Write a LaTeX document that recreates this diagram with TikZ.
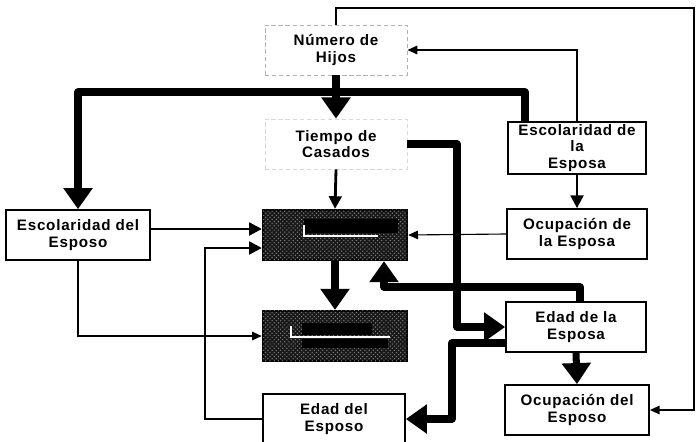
\documentclass[tikz,border=0pt]{standalone}
\usepackage{fontspec}
\setmainfont{Liberation Sans}[LetterSpace=5]
\usetikzlibrary{arrows.meta,positioning,patterns}

\begin{document}
\begin{tikzpicture}[x=0.025cm,y=-0.025cm,
  box/.style={draw, line width=1.2pt, minimum width=3.55cm, minimum height=1.25cm,
    inner sep=2pt, align=center, font=\bfseries\fontsize{10.8}{11.5}\selectfont},
  faint/.style={box, draw=black!30, densely dashed, line width=0.6pt},
  shadebox/.style={draw, line width=1.6pt, fill=black!90, minimum width=3.6cm, minimum height=1.25cm,
    postaction={pattern=crosshatch dots, pattern color=black!50}},
  fine/.style={line width=1.2pt, -{Triangle[length=7pt,width=6pt]}},
  mid/.style={line width=2pt, -{Triangle[length=9pt,width=9pt]}},
  heavy/.style={line width=5pt, line join=round, -{Triangle[length=15pt,width=20pt]}}]
\useasboundingbox (0,0) rectangle (696,441);
\node[faint] (hijos) at (336,50) {Número de\\Hijos};
\node[faint, draw=black!15] (tiempo) at (336,144) {Tiempo de\\Casados};
\node[box, minimum width=3.45cm] (escEsposa) at (577,148) {Escolaridad de\\la\\Esposa};
\node[box, minimum width=3.6cm] (escEsposo) at (78,235) {Escolaridad del\\Esposo};
\node[shadebox] (sh1) at (335,235) {};
\node[box, minimum width=3.5cm] (ocuEsposa) at (577,234) {Ocupación de\\la Esposa};
\node[shadebox] (sh2) at (335,336) {};
\node[box, minimum width=3.5cm] (edadEsposa) at (576,327) {Edad de la\\Esposa};
\node[box] (edadEsposo) at (334,419) {Edad del\\Esposo};
\node[box, minimum width=3.6cm] (ocuEsposo) at (577,410) {Ocupación del\\Esposo};

\fill (304,219) rectangle (398,233);
\draw[white, line width=0.8pt] (304,225) -- (304,236) -- (378,236);
\fill (302,323) rectangle (372,335);
\fill (302,339) rectangle (388,348);
\draw[white, line width=0.8pt] (291,326) -- (291,337) -- (390,337);

\coordinate (topR) at (694,8);
\coordinate (busL) at (78,92);
\coordinate (jogA) at (457,200);
\coordinate (jogB) at (205,248);
\coordinate (jogC) at (384,287);
\coordinate (jogD) at (452,343);

\draw[fine] (hijos.north) |- (topR) |- (ocuEsposo.east);
\draw[fine] (escEsposa.north) |- (hijos.east);
\draw[heavy] ([xshift=-1.3cm]escEsposa.north) |- (busL) -- (escEsposo.north);
\draw[heavy] (hijos.south) -- (tiempo.north);
\draw[mid] (tiempo.south) -- (sh1.north);
\draw[heavy] (tiempo.east) -| (jogA) |- (edadEsposa.west);
\draw[mid] (escEsposa.south) -- (ocuEsposa.north);
\draw[fine, line width=0.8pt] (ocuEsposa.west) -- (sh1.east);
\draw[mid] ([yshift=0.15cm]escEsposo.east) -- ([yshift=0.15cm]sh1.west);
\draw[mid] (edadEsposo.west) -| (jogB) -- (jogB -| sh1.west);
\draw[fine] (escEsposo.south) |- (sh2.west);
\draw[heavy] (sh1.south) -- (sh2.north);
\draw[heavy] ([xshift=0.1cm]edadEsposa.north) |- (jogC) -- (jogC |- sh1.south);
\draw[heavy] (jogD -| edadEsposa.west) -- (jogD) |- (edadEsposo.east);
\draw[heavy] (edadEsposa.south) -- (ocuEsposo.north);
\end{tikzpicture}
\end{document}
